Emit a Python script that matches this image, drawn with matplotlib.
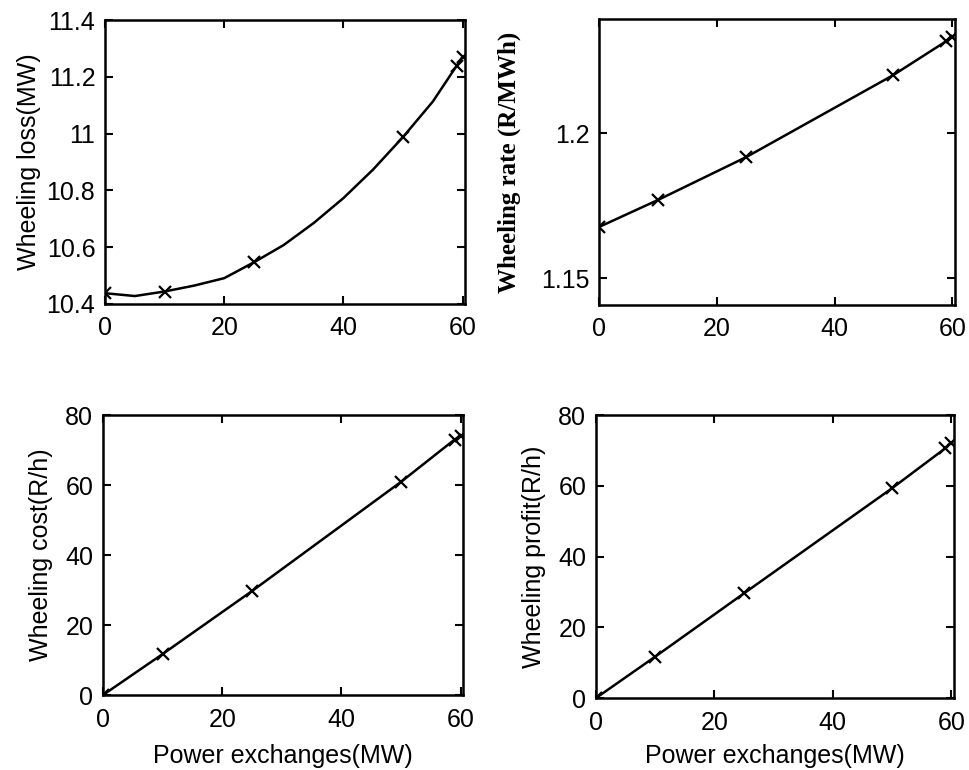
import matplotlib
matplotlib.use("Agg")
import matplotlib.pyplot as plt

# ---- data ----
x_pts = [0, 10, 25, 50, 59, 60]

# curve samples
x_curve = [0, 5, 10, 15, 20, 25, 30, 35, 40, 45, 50, 55, 59, 60]
loss_curve = [10.438, 10.428, 10.444, 10.465, 10.491, 10.547, 10.608, 10.685,
              10.773, 10.874, 10.988, 11.113, 11.239, 11.271]
loss_pts = [10.438, 10.444, 10.547, 10.988, 11.239, 11.271]

rate_pts = [1.1676, 1.1769, 1.1917, 1.2200, 1.2317, 1.2331]
cost_pts = [0.0, 11.7, 29.7, 60.9, 73.0, 74.0]
profit_pts = [0.0, 11.7, 29.6, 59.3, 70.6, 72.2]

xticks = [0, 20, 40, 60]
loss_ticks = [10.4, 10.6, 10.8, 11.0, 11.2, 11.4]
loss_ticklabels = ["10.4", "10.6", "10.8", "11", "11.2", "11.4"]
rate_ticks = [1.15, 1.2]
rate_ticklabels = ["1.15", "1.2"]
money_ticks = [0, 20, 40, 60, 80]

plt.rcParams['font.family'] = ['Liberation Sans', 'DejaVu Sans']

fig = plt.figure(figsize=(9.69, 7.70), dpi=100)

def make_ax(rect):
    ax = fig.add_axes(rect)
    for s in ax.spines.values():
        s.set_linewidth(1.8)
    ax.tick_params(direction='in', top=True, right=True, length=6, width=1.5,
                   labelsize=18)
    ax.tick_params(axis='x', pad=9)
    ax.tick_params(axis='y', pad=7)
    ax.set_xlim(0, 60.4)
    ax.set_xticks(xticks)
    return ax

# top-left
ax1 = make_ax([0.1084, 0.6052, 0.3715, 0.3688])
ax1.plot(x_curve, loss_curve, color='black', lw=1.8)
ax1.plot(x_pts, loss_pts, 'x', color='black', ms=8, mew=1.6)
ax1.set_ylim(10.4, 11.4)
ax1.set_yticks(loss_ticks)
ax1.set_yticklabels(loss_ticklabels)
ax1.set_ylabel("Wheeling loss(MW)", fontsize=18, labelpad=4)

# top-right
ax2 = make_ax([0.6182, 0.6039, 0.3670, 0.3714])
ax2.plot(x_pts, rate_pts, color='black', lw=1.8, marker='x', ms=8, mew=1.6)
ax2.set_ylim(1.1407, 1.2393)
ax2.set_yticks(rate_ticks)
ax2.set_yticklabels(rate_ticklabels)
ax2.set_ylabel("Wheeling rate (R/MWh)", fontsize=18, fontweight='bold',
               family=['Liberation Serif', 'DejaVu Serif'], labelpad=14)

# bottom-left
ax3 = make_ax([0.1063, 0.0974, 0.3715, 0.3636])
ax3.plot(x_pts, cost_pts, color='black', lw=1.8, marker='x', ms=8, mew=1.6)
ax3.set_ylim(0, 80)
ax3.set_yticks(money_ticks)
ax3.set_ylabel("Wheeling cost(R/h)", fontsize=18, labelpad=9)
ax3.set_xlabel("Power exchanges(MW)", fontsize=18, labelpad=9)

# bottom-right
ax4 = make_ax([0.6151, 0.0935, 0.3690, 0.3675])
ax4.plot(x_pts, profit_pts, color='black', lw=1.8, marker='x', ms=8, mew=1.6)
ax4.set_ylim(0, 80)
ax4.set_yticks(money_ticks)
ax4.set_ylabel("Wheeling profit(R/h)", fontsize=18, labelpad=9)
ax4.set_xlabel("Power exchanges(MW)", fontsize=18, labelpad=7)

fig.savefig("out.png", dpi=100)
